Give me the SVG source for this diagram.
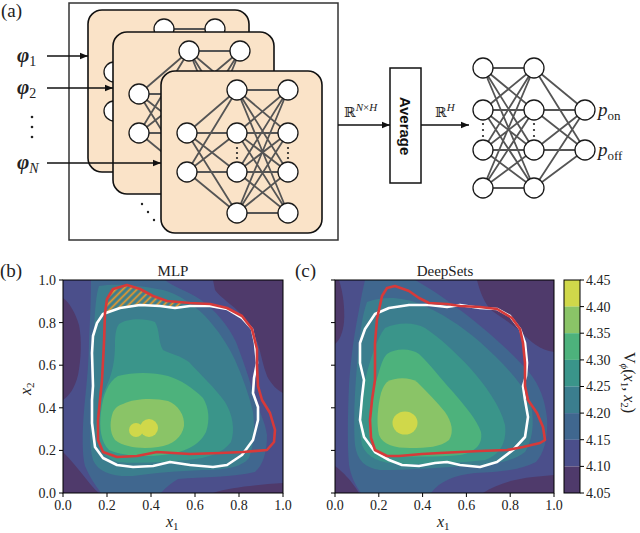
<svg xmlns="http://www.w3.org/2000/svg" width="640" height="533" viewBox="0 0 640 533">
<style>
.edge{stroke:#555;stroke-width:1.8;fill:none}
.node{fill:#fff;stroke:#1a1a1a;stroke-width:1.3}
.dot{fill:#222}
.card{fill:#fae3c8;stroke:#111;stroke-width:1.6}
.arr{stroke:#111;stroke-width:1.6;fill:none;marker-end:url(#ah)}
.tick{stroke:#000;stroke-width:1}
.t{font-family:"Liberation Serif",serif;fill:#222}
.tl{font-family:"Liberation Serif",serif;font-size:14px;fill:#222}
.L0{fill:#4f3a6b}.L1{fill:#4b4f8b}.L2{fill:#40678f}.L3{fill:#3b7e8e}.L4{fill:#3a958a}.L5{fill:#4db27c}.L6{fill:#8ac467}.L7{fill:#d0d84a}
.wl{fill:none;stroke:#fff;stroke-width:2.6;stroke-linejoin:round}
.rl{fill:none;stroke:#d63a3a;stroke-width:2.6;stroke-linejoin:round}
</style>
<defs>
<marker id="ah" viewBox="0 0 10 10" refX="10" refY="5" markerWidth="8" markerHeight="8" markerUnits="userSpaceOnUse" orient="auto"><path d="M0,1 L10,5 L0,9 Z" fill="#111"/></marker>
<pattern id="hatch" patternUnits="userSpaceOnUse" width="5" height="5" patternTransform="rotate(45)"><line x1="1.5" y1="0" x2="1.5" y2="5" stroke="#f39a24" stroke-width="1.7"/></pattern>
<clipPath id="cb"><rect x="0" y="0" width="220" height="213"/></clipPath>
<clipPath id="cc"><rect x="0" y="0" width="219" height="213"/></clipPath>
<g id="net">
<path class="edge" d="M26,62L76,19M26,62L76,62M26,62L76,101M26,62L76,142M26,101L76,19M26,101L76,62M26,101L76,101M26,101L76,142
M76,19L127,19M76,19L127,62M76,19L127,101M76,19L127,142
M76,62L127,19M76,62L127,62M76,62L127,101M76,62L127,142
M76,101L127,19M76,101L127,62M76,101L127,101M76,101L127,142
M76,142L127,19M76,142L127,62M76,142L127,101M76,142L127,142"/>
<circle class="node" cx="26" cy="62" r="10"/><circle class="node" cx="26" cy="101" r="10"/>
<circle class="node" cx="76" cy="19" r="10"/><circle class="node" cx="76" cy="62" r="10"/><circle class="node" cx="76" cy="101" r="10"/><circle class="node" cx="76" cy="142" r="10"/>
<circle class="node" cx="127" cy="19" r="10"/><circle class="node" cx="127" cy="62" r="10"/><circle class="node" cx="127" cy="101" r="10"/><circle class="node" cx="127" cy="142" r="10"/>
<circle class="dot" cx="76" cy="77" r="1.1"/><circle class="dot" cx="76" cy="82" r="1.1"/><circle class="dot" cx="76" cy="87" r="1.1"/>
<circle class="dot" cx="127" cy="77" r="1.1"/><circle class="dot" cx="127" cy="82" r="1.1"/><circle class="dot" cx="127" cy="87" r="1.1"/>
</g>
</defs>
<rect width="640" height="533" fill="#fff"/>

<text class="t" x="1" y="17" font-size="19">(a)</text>
<g id="encoder-box"><rect x="69" y="3" width="269" height="237" fill="none" stroke="#333" stroke-width="1.5"/></g>
<g id="card1"><rect class="card" x="88" y="10" width="161" height="162" rx="14"/><use href="#net" x="88" y="10"/></g>
<g id="card2"><rect class="card" x="113" y="32" width="161" height="162" rx="14"/><use href="#net" x="113" y="32"/></g>
<g id="card3"><rect class="card" x="161" y="71" width="161" height="162" rx="14"/><use href="#net" x="161" y="71"/></g>
<g id="stack-dots"><circle class="dot" cx="142" cy="204" r="1.2"/><circle class="dot" cx="148" cy="212" r="1.2"/><circle class="dot" cx="154" cy="220" r="1.2"/></g>

<g id="inputs">
<text class="t" x="17" y="62" font-size="21"><tspan font-weight="bold" font-style="italic">φ</tspan><tspan font-size="14" dy="4">1</tspan></text>
<text class="t" x="17" y="94" font-size="21"><tspan font-weight="bold" font-style="italic">φ</tspan><tspan font-size="14" dy="4">2</tspan></text>
<circle class="dot" cx="32" cy="117" r="1.3"/><circle class="dot" cx="32" cy="127" r="1.3"/><circle class="dot" cx="32" cy="137" r="1.3"/>
<text class="t" x="17" y="169" font-size="21"><tspan font-weight="bold" font-style="italic">φ</tspan><tspan font-size="14" dy="4" font-style="italic">N</tspan></text>
</g>

<g id="average"><rect x="390" y="68" width="31" height="115" fill="#fff" stroke="#111" stroke-width="1.5"/>
<text transform="translate(400,126) rotate(90)" text-anchor="middle" font-family="Liberation Sans,Arial,sans-serif" font-weight="bold" font-size="15" fill="#111">Average</text></g>

<g id="connectors">
<line class="arr" x1="47" y1="56" x2="88" y2="56"/>
<line class="arr" x1="47" y1="88" x2="113" y2="88"/>
<line class="arr" x1="47" y1="163" x2="161" y2="163"/>
<line class="arr" x1="338" y1="125" x2="390" y2="125"/>
<line class="arr" x1="421" y1="125" x2="469" y2="125"/>
</g>
<text x="344" y="117" font-family="DejaVu Serif,DejaVu Sans,serif" font-size="14" fill="#222">ℝ<tspan font-size="11" dy="-6" font-family="Liberation Serif,serif" font-style="italic">N</tspan><tspan font-size="11" font-family="Liberation Serif,serif">×</tspan><tspan font-size="11" font-family="Liberation Serif,serif" font-style="italic">H</tspan></text>
<text x="435" y="117" font-family="DejaVu Serif,DejaVu Sans,serif" font-size="14" fill="#222">ℝ<tspan font-size="11" dy="-6" font-family="Liberation Serif,serif" font-style="italic">H</tspan></text>

<g id="head-net">
<path class="edge" d="M483,68L534,68M483,68L534,110M483,68L534,150M483,68L534,188
M483,110L534,68M483,110L534,110M483,110L534,150M483,110L534,188
M483,150L534,68M483,150L534,110M483,150L534,150M483,150L534,188
M483,188L534,68M483,188L534,110M483,188L534,150M483,188L534,188
M534,68L585,110M534,68L585,150M534,110L585,110M534,110L585,150M534,150L585,110M534,150L585,150M534,188L585,110M534,188L585,150"/>
<circle class="node" cx="483" cy="68" r="10"/><circle class="node" cx="483" cy="110" r="10"/><circle class="node" cx="483" cy="150" r="10"/><circle class="node" cx="483" cy="188" r="10"/>
<circle class="node" cx="534" cy="68" r="10"/><circle class="node" cx="534" cy="110" r="10"/><circle class="node" cx="534" cy="150" r="10"/><circle class="node" cx="534" cy="188" r="10"/>
<circle class="node" cx="585" cy="110" r="10"/><circle class="node" cx="585" cy="150" r="10"/>
<circle class="dot" cx="483" cy="124" r="1.1"/><circle class="dot" cx="483" cy="130" r="1.1"/><circle class="dot" cx="483" cy="136" r="1.1"/>
<circle class="dot" cx="534" cy="124" r="1.1"/><circle class="dot" cx="534" cy="130" r="1.1"/><circle class="dot" cx="534" cy="136" r="1.1"/>
</g>
<text class="t" x="598" y="116" font-size="19" font-style="italic">p<tspan font-style="normal" font-size="13" dy="4">on</tspan></text>
<text class="t" x="598" y="156" font-size="19" font-style="italic">p<tspan font-style="normal" font-size="13" dy="4">off</tspan></text>

<!-- panel b -->
<text class="t" x="0" y="277" font-size="19">(b)</text>
<text class="t" x="173" y="276" font-size="15" text-anchor="middle">MLP</text>
<g id="plot-b" transform="translate(63,280)">
<g clip-path="url(#cb)">
<rect class="L1" width="220" height="213"/>
<path class="L0" d="M150,0 L220,0 L220,113 C214,110 208,104 204,96 C200,86 198,74 195,64 C191,52 185,42 176,32 C168,24 158,18 152,10 Z"/>
<path class="L0" d="M0,18 C6,22 12,32 16,45 C19,60 18,80 15,95 C12,108 6,116 0,120 Z"/>
<path class="L0" d="M0,172 C8,180 16,190 24,200 C28,205 32,210 36,213 L0,213 Z"/>
<path class="L0" d="M150,213 C165,208 185,206 205,204 L220,203 L220,213 Z"/>
<path class="L2" d="M28,0 L102,0 C110,7 125,11 138,20 C152,30 165,45 173,62 C180,80 186,98 190,112 C194,128 202,140 204,155 C204,172 200,185 192,192 C170,197 140,197 115,199 C108,203 102,208 98,213 L38,213 C32,205 26,196 22,186 C18,170 20,140 22,120 C24,100 26,80 26,60 C27,40 28,20 28,0 Z"/>
<path class="L3" d="M36,6 C55,3 80,6 100,10 C115,14 130,24 142,36 C155,50 165,65 172,80 C180,98 186,115 190,132 C192,150 191,165 186,178 C178,188 160,190 140,190 C115,191 90,193 70,196 C50,197 35,192 30,180 C26,165 27,145 28,125 C29,100 30,75 31,50 C32,30 33,15 36,6 Z"/>
<path class="L4" d="M56,44 C64,38 82,38 92,42 C97,50 95,62 100,70 C108,74 118,76 126,82 C138,95 152,108 162,122 C170,135 172,150 168,162 C160,173 145,178 125,180 C100,182 75,184 55,182 C42,178 34,168 33,152 C33,135 38,118 44,105 C50,92 52,78 52,64 C52,55 53,48 56,44 Z"/>
<path class="L5" d="M55,96 C70,92 90,92 105,96 C118,100 130,108 140,118 C146,128 147,140 143,152 C136,166 120,173 100,175 C80,177 60,176 46,170 C38,162 36,148 38,132 C40,115 45,102 55,96 Z"/>
<path class="L6" d="M60,124 C72,118 92,118 105,121 C115,125 122,135 121,146 C119,157 110,165 95,167 C80,169 62,168 52,160 C46,152 47,140 50,132 C53,127 56,125 60,124 Z"/>
<circle class="L7" cx="73" cy="150" r="7"/><circle class="L7" cx="86" cy="148" r="9"/>
</g>
</g>
<path fill="url(#hatch)" d="M105,313 L107,299 L113,289 L127,285 L140,289 L153,296 L167,301 L186,303 L175,308 L160,306 L140,305 L120,308 Z"/>
<path class="wl" d="M93,336 L97,323 L103,314 L120,308 L140,305 L160,306 L175,308 L190,306 L210,306 L227,309 L242,318 L252,329 L255,343 L257,363 L254,378 L253,393 L258,407 L258,420 L253,440 L242,455 L227,465 L213,467 L190,465 L170,462 L153,466 L133,467 L117,465 L103,458 L95,447 L92,423 L92,400 L93,386 L92,353 Z"/>
<path class="rl" d="M102,380 L104,343 L105,313 L107,299 L113,289 L127,285 L140,289 L153,296 L167,301 L190,303 L210,304 L227,308 L242,316 L252,329 L257,349 L257,366 L258,386 L262,400 L270,413 L275,430 L274,442 L267,450 L243,452 L220,453 L190,454 L157,452 L137,456 L117,457 L103,452 L98,440 L98,420 L100,400 Z"/>
<rect x="63" y="280" width="220" height="213" fill="none" stroke="#000" stroke-width="1"/>
<path class="tick" d="M59,280H63M59,322.6H63M59,365.2H63M59,407.8H63M59,450.4H63M59,493H63M63,493V497M107,493V497M151,493V497M195,493V497M239,493V497M283,493V497"/>
<g class="tl" text-anchor="end">
<text x="56" y="285">1.0</text><text x="56" y="328">0.8</text><text x="56" y="370">0.6</text><text x="56" y="413">0.4</text><text x="56" y="455">0.2</text><text x="56" y="498">0.0</text>
</g>
<g class="tl" text-anchor="middle">
<text x="63" y="510">0.0</text><text x="107" y="510">0.2</text><text x="151" y="510">0.4</text><text x="195" y="510">0.6</text><text x="239" y="510">0.8</text><text x="283" y="510">1.0</text>
</g>
<text class="t" x="166" y="527" font-size="16" font-style="italic">x<tspan font-style="normal" font-size="11" dy="3">1</tspan></text>
<text class="t" transform="translate(31,395) rotate(-90)" font-size="16" font-style="italic">x<tspan font-style="normal" font-size="11" dy="3">2</tspan></text>

<!-- panel c -->
<text class="t" x="295" y="277" font-size="19">(c)</text>
<text class="t" x="445" y="276" font-size="15" text-anchor="middle">DeepSets</text>
<g id="plot-c" transform="translate(335,280)">
<g clip-path="url(#cc)">
<rect class="L1" width="219" height="213"/>
<path class="L0" d="M142,0 L219,0 L219,72 C205,70 196,62 186,52 C176,43 165,37 156,30 C149,22 145,12 142,0 Z"/>
<path class="L0" d="M0,0 L4,0 C8,12 10,28 9,42 C8,52 5,60 0,64 Z"/>
<path class="L0" d="M0,186 C8,192 16,200 24,213 L0,213 Z"/>
<path class="L0" d="M148,213 C160,205 178,199 198,197 L219,195 L219,213 Z"/>
<path class="L2" d="M30,0 L80,0 C98,10 118,24 138,40 C158,56 178,74 194,92 C205,106 210,120 212,138 C213,156 210,172 201,182 C186,190 165,192 140,193 C120,195 105,201 96,213 L26,213 C20,205 16,196 14,185 C12,160 13,130 14,105 C16,75 20,50 24,30 C26,18 28,8 30,0 Z"/>
<path class="L3" d="M32,22 C50,15 70,18 85,24 C105,32 125,45 145,62 C165,80 185,100 195,120 C200,140 198,160 190,172 C178,182 155,185 130,186 C100,188 70,190 45,190 C30,188 22,180 20,165 C18,140 20,110 22,85 C24,60 27,35 32,22 Z"/>
<path class="L4" d="M50,48 C62,42 80,42 90,48 C105,58 120,72 135,88 C150,105 165,125 170,145 C172,162 165,175 150,180 C125,183 95,184 65,184 C45,183 32,178 27,165 C23,145 25,120 30,100 C35,80 42,58 50,48 Z"/>
<path class="L5" d="M52,74 C60,68 76,68 84,74 C95,84 105,98 118,112 C130,126 142,140 146,152 C148,165 140,172 125,175 C100,177 75,177 52,175 C40,172 34,165 34,150 C34,130 38,110 43,95 C46,85 48,78 52,74 Z"/>
<path class="L6" d="M52,102 C60,97 75,97 82,102 C92,112 102,122 110,132 C117,142 119,152 114,160 C106,167 92,168 75,168 C60,168 48,165 44,155 C41,142 43,125 46,113 C48,107 50,104 52,102 Z"/>
<ellipse class="L7" cx="70" cy="143" rx="12.5" ry="11.5"/>
</g>
</g>
<path class="wl" d="M360,343 L365,329 L375,314 L389,308 L409,305 L429,305 L447,307 L460,305 L480,308 L497,309 L510,316 L520,329 L525,343 L527,363 L526,376 L523,386 L525,400 L528,417 L525,437 L513,450 L497,462 L480,467 L460,465 L447,462 L435,463 L419,466 L402,465 L389,460 L375,452 L364,437 L360,420 L362,397 L364,380 L360,363 Z"/>
<path class="rl" d="M375,380 L375,343 L377,319 L382,296 L387,288 L395,286 L409,291 L419,298 L429,303 L447,304 L460,306 L480,307 L497,309 L512,318 L520,329 L523,343 L525,363 L525,386 L528,400 L537,413 L543,427 L545,440 L540,443 L523,447 L507,450 L480,451 L460,452 L440,453 L422,454 L399,456 L387,456 L375,450 L371,438 L370,420 L372,400 Z"/>
<rect x="335" y="280" width="219" height="213" fill="none" stroke="#000" stroke-width="1"/>
<path class="tick" d="M331,280H335M331,322.6H335M331,365.2H335M331,407.8H335M331,450.4H335M331,493H335M335,493V497M378.8,493V497M422.6,493V497M466.4,493V497M510.2,493V497M554,493V497"/>
<g class="tl" text-anchor="middle">
<text x="335" y="510">0.0</text><text x="378.8" y="510">0.2</text><text x="422.6" y="510">0.4</text><text x="466.4" y="510">0.6</text><text x="510.2" y="510">0.8</text><text x="554" y="510">1.0</text>
</g>
<text class="t" x="437" y="527" font-size="16" font-style="italic">x<tspan font-style="normal" font-size="11" dy="3">1</tspan></text>

<!-- colorbar -->
<g id="colorbar">
<rect class="L7" x="564" y="280" width="16" height="26.7"/>
<rect class="L6" x="564" y="306.6" width="16" height="26.7"/>
<rect class="L5" x="564" y="333.2" width="16" height="26.7"/>
<rect class="L4" x="564" y="359.9" width="16" height="26.7"/>
<rect class="L3" x="564" y="386.5" width="16" height="26.7"/>
<rect class="L2" x="564" y="413.1" width="16" height="26.7"/>
<rect class="L1" x="564" y="439.7" width="16" height="26.7"/>
<rect class="L0" x="564" y="466.4" width="16" height="26.6"/>
<rect x="564" y="280" width="16" height="213" fill="none" stroke="#000" stroke-width="1"/>
<path class="tick" d="M580,280H584M580,306.6H584M580,333.2H584M580,359.9H584M580,386.5H584M580,413.1H584M580,439.7H584M580,466.4H584M580,493H584"/>
<g class="tl" font-size="15">
<text x="586" y="285">4.45</text><text x="586" y="312">4.40</text><text x="586" y="338">4.35</text><text x="586" y="365">4.30</text><text x="586" y="391">4.25</text><text x="586" y="418">4.20</text><text x="586" y="445">4.15</text><text x="586" y="471">4.10</text><text x="586" y="498">4.05</text>
</g>
<text class="t" transform="translate(624,352) rotate(90)" font-size="16">V<tspan font-style="italic" font-size="11" dy="3">ϕ</tspan><tspan dy="-3">(</tspan><tspan font-style="italic">x</tspan><tspan font-size="11" dy="3">1</tspan><tspan dy="-3">, </tspan><tspan font-style="italic">x</tspan><tspan font-size="11" dy="3">2</tspan><tspan dy="-3">)</tspan></text>
</g>
</svg>
